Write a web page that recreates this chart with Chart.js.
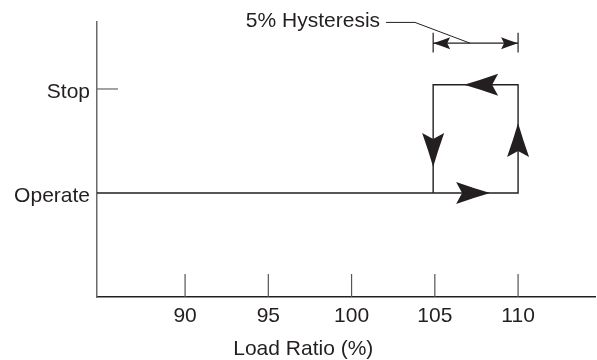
<!DOCTYPE html>
<html lang="en">
<head>
    <meta charset="UTF-8">
    <title>Load Ratio Hysteresis</title>
    <script src="https://cdn.jsdelivr.net/npm/chart.js"></script>
    <style>
        body { margin: 0; background: #fff; }
        #wrap { width: 597px; height: 360px; }
    </style>
</head>
<body>
    <div id="wrap"><canvas id="hystChart" width="597" height="360"></canvas></div>
    <script>
        // axis values
        const xTicks = [90, 95, 100, 105, 110];
        const xRange = [84.71, 114.62];
        const yLevels = [1, 2];
        const yLabels = ['Operate', 'Stop'];
        const yRange = [0, 2.644];

        // operate / stop loop (load ratio %, state)
        const loopX = [84.71, 110, 110, 104.9, 104.9];
        const loopY = [1, 1, 2.04, 2.04, 1];

        // hysteresis dimension line and leader
        const dimX = [104.9, 110];
        const dimY = 2.44;
        const dimBarY = [2.35, 2.54];
        const leaderX = [102.07, 103.81, 107.12];
        const leaderY = [2.64, 2.64, 2.44];
        const noteText = '5% Hysteresis';
        const axisTitle = 'Load Ratio (%)';
        const axisTitleX = 97.1;

        // arrowheads: tip position + direction
        const loopArrows = [
            { x: 106.76, y: 2.04, dir: 'left' },
            { x: 104.9, y: 1.25, dir: 'down' },
            { x: 110, y: 1.673, dir: 'up' },
            { x: 108.32, y: 1, dir: 'right' }
        ];
        const dimArrows = [
            { x: 104.9, y: 2.44, dir: 'left' },
            { x: 110, y: 2.44, dir: 'right' }
        ];

        const ink = '#231f20';
        const font = '"Liberation Sans", Arial, sans-serif';
        const fontSize = 21;

        // segments with gaps between them
        function segs(list) {
            const out = [];
            list.forEach((s, i) => {
                if (i > 0) out.push({ x: s[0].x, y: null });
                out.push(s[0], s[1]);
            });
            return out;
        }

        const tickMarks = segs(xTicks.map(v => [{ x: v, y: 0 }, { x: v, y: 0.22 }]));
        const stopTick = [{ x: xRange[0], y: 2 }, { x: 85.97, y: 2 }];
        const loopPts = loopX.map((x, i) => ({ x: x, y: loopY[i] }));
        const dimPts = segs([
            [{ x: dimX[0], y: dimY }, { x: dimX[1], y: dimY }],
            [{ x: dimX[0], y: dimBarY[0] }, { x: dimX[0], y: dimBarY[1] }],
            [{ x: dimX[1], y: dimBarY[0] }, { x: dimX[1], y: dimBarY[1] }]
        ]);
        const leaderPts = leaderX.map((x, i) => ({ x: x, y: leaderY[i] }));

        const angles = { right: 0, down: Math.PI / 2, left: Math.PI, up: -Math.PI / 2 };

        function arrowHead(ctx, px, py, dir, L, W, N) {
            ctx.save();
            ctx.translate(px, py);
            ctx.rotate(angles[dir]);
            ctx.beginPath();
            ctx.moveTo(0, 0);
            ctx.quadraticCurveTo(-L * 0.5, -W * 0.45, -L, -W);
            ctx.lineTo(-L + N, 0);
            ctx.lineTo(-L, W);
            ctx.quadraticCurveTo(-L * 0.5, W * 0.45, 0, 0);
            ctx.closePath();
            ctx.fillStyle = ink;
            ctx.fill();
            ctx.restore();
        }

        const annotate = {
            id: 'annotate',
            afterDatasetsDraw(chart) {
                const ctx = chart.ctx;
                const xs = chart.scales.x, ys = chart.scales.y;
                loopArrows.forEach(a => arrowHead(ctx, xs.getPixelForValue(a.x), ys.getPixelForValue(a.y), a.dir, 34, 11, 6));
                dimArrows.forEach(a => arrowHead(ctx, xs.getPixelForValue(a.x), ys.getPixelForValue(a.y), a.dir, 17, 6, 3));

                ctx.save();
                ctx.fillStyle = ink;
                ctx.font = fontSize + 'px ' + font;
                ctx.textAlign = 'right';
                ctx.textBaseline = 'middle';
                ctx.fillText(noteText, xs.getPixelForValue(leaderX[0]) - 6, ys.getPixelForValue(leaderY[0]) - 1);
                ctx.textAlign = 'center';
                ctx.fillText(axisTitle, xs.getPixelForValue(axisTitleX), chart.chartArea.bottom + 52);
                ctx.restore();
            }
        };

        const lineDs = (data, color, width) => ({
            data: data,
            borderColor: color,
            borderWidth: width,
            pointRadius: 0,
            spanGaps: false,
            tension: 0,
            clip: false,
            fill: false
        });

        new Chart(document.getElementById('hystChart'), {
            type: 'line',
            data: {
                datasets: [
                    lineDs(tickMarks, '#555', 1.2),
                    lineDs(stopTick, '#666', 1.2),
                    lineDs(loopPts, ink, 1.4),
                    lineDs(dimPts, ink, 1.2),
                    lineDs(leaderPts, ink, 1)
                ]
            },
            options: {
                responsive: false,
                animation: false,
                devicePixelRatio: 1,
                layout: { padding: { top: 22, right: 2, left: 0, bottom: 0 } },
                plugins: { legend: { display: false }, tooltip: { enabled: false } },
                scales: {
                    x: {
                        type: 'linear',
                        min: xRange[0],
                        max: xRange[1],
                        afterBuildTicks: s => { s.ticks = xTicks.map(v => ({ value: v })); },
                        afterFit: s => { s.height = 63; },
                        grid: { display: false, drawTicks: false },
                        border: { display: true, color: ink, width: 1.5 },
                        ticks: { color: ink, font: { size: fontSize, family: font }, padding: 7, maxRotation: 0 }
                    },
                    y: {
                        type: 'linear',
                        min: yRange[0],
                        max: yRange[1],
                        afterBuildTicks: s => { s.ticks = yLevels.map(v => ({ value: v })); },
                        afterFit: s => { s.width = 97; },
                        grid: { display: false, drawTicks: false },
                        border: { display: true, color: '#6a6a6a', width: 1.5 },
                        ticks: {
                            color: ink,
                            font: { size: fontSize, family: font },
                            padding: 7,
                            labelOffset: 3,
                            callback: v => yLabels[yLevels.indexOf(v)]
                        }
                    }
                }
            },
            plugins: [annotate]
        });
    </script>
</body>
</html>
